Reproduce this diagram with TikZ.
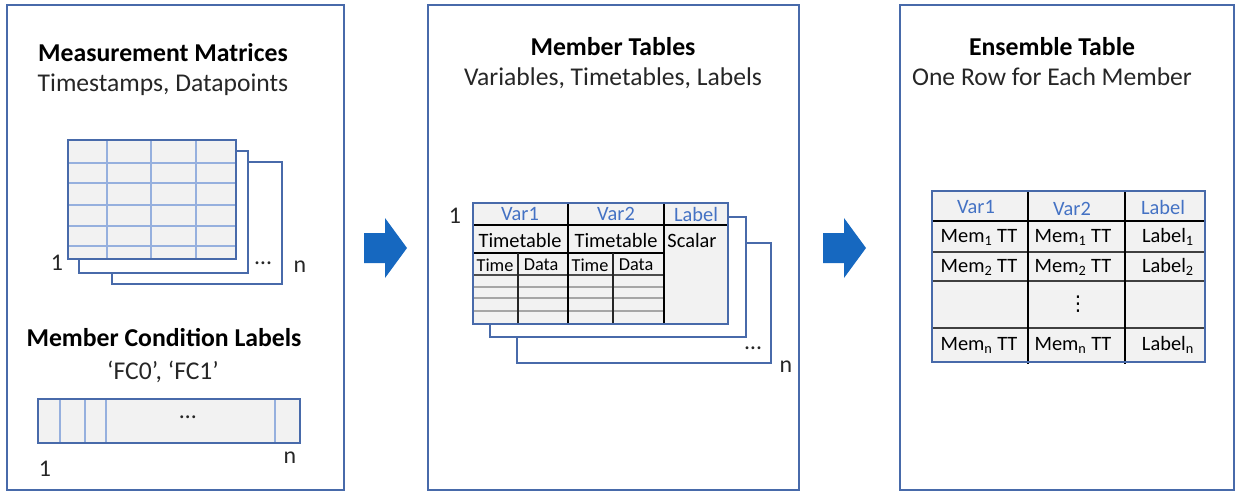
\documentclass[tikz,border=0pt]{standalone}
\usepackage{fontspec}
\setmainfont{Carlito}
\newfontfamily\dotsfont{DejaVu Sans}
\usepackage{tikz}
\usetikzlibrary{positioning}
\definecolor{frameBlue}{RGB}{72,106,170}
\definecolor{gridBlue}{RGB}{150,176,222}
\definecolor{cellGray}{RGB}{242,242,242}
\definecolor{headBlue}{RGB}{68,114,196}
\definecolor{arrowBlue}{RGB}{22,104,192}

\begin{document}
\begin{tikzpicture}[x=0.025cm,y=-0.025cm,
  panel/.style={draw=frameBlue,line width=1.3pt},
  sheet/.style={draw=frameBlue,line width=1.2pt,fill=white},
  grid/.style={gridBlue,line width=0.8pt},
  title/.style={font=\fontsize{18.3}{21}\selectfont\bfseries},
  sub/.style={font=\fontsize{18.2}{21}\selectfont,text=black!85},
  num/.style={font=\fontsize{17}{20}\selectfont,text=black!85},
  cell/.style={font=\fontsize{14.5}{17}\selectfont,inner sep=0pt},
  small/.style={font=\fontsize{13}{15}\selectfont,inner sep=0pt},
  head/.style={font=\fontsize{14.5}{17}\selectfont,text=headBlue,inner sep=0pt}]

  \useasboundingbox (0,0) rectangle (1236,493);

  % Bloc measurement matrices
  \draw[panel] (7,5) rectangle (344,490);
  \node[title] (mmTitle) at (163,53) {Measurement Matrices};
  \node[sub]   (mmSub)   at (163,85) {Timestamps, Datapoints};

  \draw[sheet] (112,162) rectangle (282,284);
  \draw[sheet] (79,151) rectangle (248,273);
  \fill[cellGray] (68,140) rectangle (236,259);
  \foreach \x in {107,151,196} \draw[grid] (\x,140)--(\x,259);
  \foreach \y in {163,183,205,226,246} \draw[grid] (68,\y)--(236,\y);
  \draw[frameBlue,line width=1.2pt] (68,140) rectangle (236,259);
  \node[num] (mmOne)  at (57,263)  {1};
  \node[num] (mmDots) at (263,263) {\ldots};
  \node[num] (mmN)    at (300,267) {n};

  \node[title] (mcTitle) at (164,338) {Member Condition Labels};
  \node[sub]   (mcSub)   at (163,372) {‘FC0’, ‘FC1’};
  \fill[cellGray] (38,399) rectangle (300,443);
  \foreach \x in {60,85,106,275} \draw[grid] (\x,399)--(\x,443);
  \draw[frameBlue,line width=1.2pt] (38,399) rectangle (300,443);
  \node[num] (mcDots) at (188,417) {\ldots};
  \node[num] (mcOne)  at (45,469)  {1};
  \node[num] (mcN)    at (290,458) {n};

  % Bloc member tables
  \draw[panel] (428,5) rectangle (799,490);
  \node[title] (mtTitle) at (613,47) {Member Tables};
  \node[sub]   (mtSub)   at (613,78) {Variables, Timetables, Labels};

  \draw[sheet] (517,243) rectangle (771,363);
  \draw[sheet] (490,217) rectangle (746,337);
  \fill[cellGray] (473,203) rectangle (728,324);
  \foreach \y in {287,298,311} \draw[black!35,line width=0.8pt] (473,\y)--(664,\y);
  \draw[black!70,line width=0.9pt] (473,275)--(664,275);
  \draw[black,line width=1pt] (473,253)--(664,253);
  \foreach \x in {518,613} \draw[black!85,line width=0.9pt] (\x,253)--(\x,324);
  \draw[black,line width=1.4pt] (473,225)--(728,225);
  \foreach \x in {568,664} \draw[black,line width=1.4pt] (\x,203)--(\x,324);
  \draw[frameBlue,line width=1.2pt] (473,203) rectangle (728,324);

  \node[head] (mtVarA)  at (520,214) {Var1};
  \node[head] (mtVarB)  at (616,214) {Var2};
  \node[head] (mtLabel) at (696,214) {Label};
  \node[cell] (mtTtA)   at (520,240) {Timetable};
  \node[cell] (mtTtB)   at (616,240) {Timetable};
  \node[cell] (mtScal)  at (692,240) {Scalar};
  \node[small] (mtTimeA) at (495,265) {Time};
  \node[small] (mtDataA) at (541,265) {Data};
  \node[small] (mtTimeB) at (590,265) {Time};
  \node[small] (mtDataB) at (636,265) {Data};
  \node[num] (mtOne)  at (455,216) {1};
  \node[num] (mtDots) at (753,348) {\ldots};
  \node[num] (mtN)    at (786,367) {n};

  % Bloc ensemble table
  \draw[panel] (900,5) rectangle (1234,490);
  \node[title] (etTitle) at (1052,47) {Ensemble Table};
  \node[sub]   (etSub)   at (1052,77) {One Row for Each Member};

  \fill[cellGray] (932,191) rectangle (1205,362);
  \foreach \y in {252,281,328} \draw[black!75,line width=1pt] (932,\y)--(1205,\y);
  \draw[black,line width=1.4pt] (932,221)--(1205,221);
  \foreach \x in {1028,1125} \draw[black,line width=1.4pt] (\x,191)--(\x,364);
  \draw[frameBlue,line width=1.2pt] (932,191) rectangle (1205,362);

  \node[head] (etVarA)  at (976,207)  {Var1};
  \node[head] (etVarB)  at (1072,209) {Var2};
  \node[head] (etLabel) at (1163,207) {Label};
  \foreach \r/\y in {1/237,2/267,n/345} {
    \node[cell] (etMemA\r) at (979,\y)  {Mem\textsubscript{\r} TT};
    \node[cell] (etMemB\r) at (1073,\y) {Mem\textsubscript{\r} TT};
    \node[cell] (etLab\r)  at (1168,\y) {Label\textsubscript{\r}};
  }
  \node[cell] (etDots) at (1078,304) {\dotsfont ⋮};

  % Flèches
  \foreach \x in {364,823}
    \fill[arrowBlue] (\x,233)--++(21,0)--++(0,-15)--++(22,30)--++(-22,30)--++(0,-15)--++(-21,0)--cycle;
\end{tikzpicture}
\end{document}
